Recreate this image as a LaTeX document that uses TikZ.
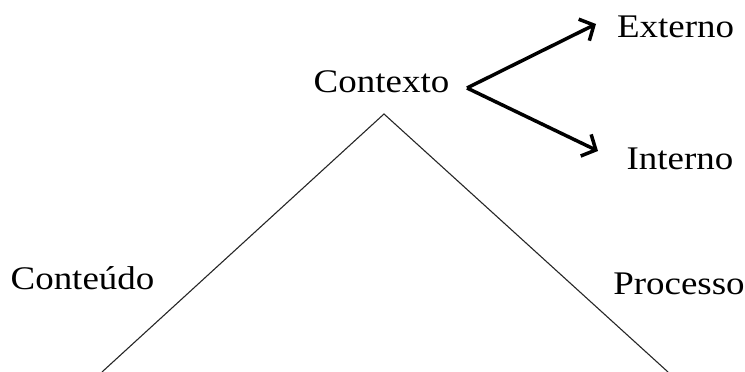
\documentclass[tikz,border=0pt]{standalone}
\usepackage{fontspec}
\setmainfont{Liberation Serif}
\usetikzlibrary{arrows.meta}
\begin{document}
\begin{tikzpicture}[x=1pt,y=1pt,
  lbl/.style={inner sep=0pt,anchor=base,font=\fontsize{33}{36}\selectfont,xscale=1.12},
  side/.style={draw=black!85,line width=1.1pt},
  arr/.style={line width=3.5pt,-{Straight Barb[length=11pt,width=24pt,line width=3.5pt]}}]
\useasboundingbox (0,0) rectangle (745,372);
\begin{scope}
\clip (0,0) rectangle (745,372);
\coordinate (apex) at (384,258);
\coordinate (bl) at (102,0);
\coordinate (br) at (668,0);
\draw[side] (bl) -- (apex) -- (br);
\end{scope}
\node[lbl] (ctx) at (381.5,279) {Contexto};
\node[lbl] (ext) at (675.5,334) {Externo};
\node[lbl] (int) at (680,202) {Interno};
\node[lbl] (cont) at (82.5,82) {Conteúdo};
\node[lbl] (proc) at (679,77) {Processo};
\coordinate (fork) at (467,284);
\draw[arr] (fork) -- (596,348);
\draw[arr] (fork) -- (598,221);
\end{tikzpicture}
\end{document}
